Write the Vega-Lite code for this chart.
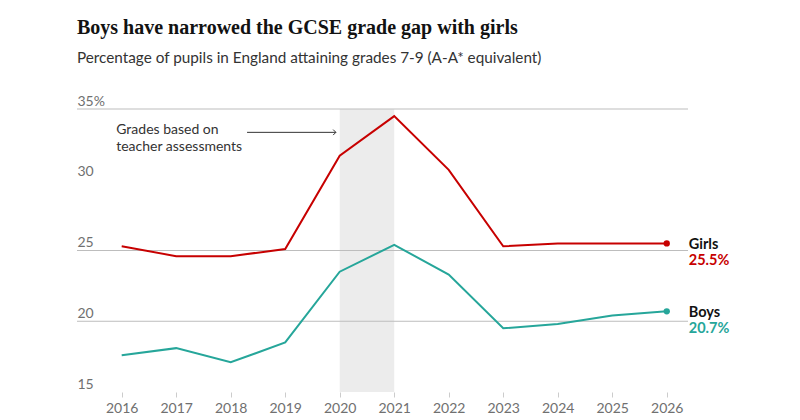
{
  "$schema": "https://vega.github.io/schema/vega-lite/v6.json",
  "description": "Share of pupils in England getting GCSE grades 7-9, girls and boys",
  "autosize": {"type": "none"},
  "padding": {"left": 77, "top": 109, "right": 112, "bottom": 28},
  "width": 611,
  "height": 283,
  "background": "white",
  "title": {
    "text": "Boys have narrowed the GCSE grade gap with girls",
    "subtitle": "Percentage of pupils in England attaining grades 7-9 (A-A* equivalent)",
    "anchor": "start",
    "frame": "group",
    "font": "Liberation Serif",
    "fontSize": 20,
    "fontWeight": "bold",
    "color": "#121212",
    "subtitleFont": "Lato",
    "subtitleFontSize": 15.3,
    "subtitleColor": "#333333",
    "subtitlePadding": 13,
    "offset": 28
  },
  "config": {
    "view": {"stroke": null},
    "font": "Lato"
  },
  "data": {
    "values": [
      {"year": 2016, "group": "Girls", "pct": 25.3},
      {"year": 2017, "group": "Girls", "pct": 24.6},
      {"year": 2018, "group": "Girls", "pct": 24.6},
      {"year": 2019, "group": "Girls", "pct": 25.1},
      {"year": 2020, "group": "Girls", "pct": 31.7},
      {"year": 2021, "group": "Girls", "pct": 34.5},
      {"year": 2022, "group": "Girls", "pct": 30.7},
      {"year": 2023, "group": "Girls", "pct": 25.3},
      {"year": 2024, "group": "Girls", "pct": 25.5},
      {"year": 2025, "group": "Girls", "pct": 25.5},
      {"year": 2026, "group": "Girls", "pct": 25.5},
      {"year": 2016, "group": "Boys", "pct": 17.6},
      {"year": 2017, "group": "Boys", "pct": 18.1},
      {"year": 2018, "group": "Boys", "pct": 17.1},
      {"year": 2019, "group": "Boys", "pct": 18.5},
      {"year": 2020, "group": "Boys", "pct": 23.5},
      {"year": 2021, "group": "Boys", "pct": 25.4},
      {"year": 2022, "group": "Boys", "pct": 23.3},
      {"year": 2023, "group": "Boys", "pct": 19.5},
      {"year": 2024, "group": "Boys", "pct": 19.8},
      {"year": 2025, "group": "Boys", "pct": 20.4},
      {"year": 2026, "group": "Boys", "pct": 20.7}
    ]
  },
  "layer": [
    {
      "data": {"values": [{"start": 2020, "end": 2021}]},
      "mark": {"type": "rect", "color": "#ececec"},
      "encoding": {
        "x": {"field": "start", "type": "quantitative"},
        "x2": {"field": "end"},
        "y": {"datum": 15},
        "y2": {"datum": 35}
      }
    },
    {
      "data": {"values": [{"v": 35}, {"v": 25}, {"v": 20}]},
      "mark": {"type": "rule", "color": "#bdbdbd", "strokeWidth": 1},
      "encoding": {
        "y": {"field": "v", "type": "quantitative"}
      }
    },
    {
      "mark": {"type": "line", "strokeWidth": 2},
      "encoding": {
        "x": {
          "field": "year",
          "type": "quantitative",
          "scale": {"domain": [2015.18, 2026.39], "nice": false, "zero": false},
          "axis": {
            "title": null,
            "values": [2016, 2017, 2018, 2019, 2020, 2021, 2022, 2023, 2024, 2025, 2026],
            "format": "d",
            "grid": false,
            "domain": false,
            "tickColor": "#cccccc",
            "tickSize": 5,
            "labelPadding": 4,
            "labelFont": "Lato",
            "labelFontSize": 14,
            "labelColor": "#707070"
          }
        },
        "y": {
          "field": "pct",
          "type": "quantitative",
          "scale": {"domain": [15, 35], "nice": false, "zero": false},
          "axis": {
            "title": null,
            "values": [15, 20, 25, 30, 35],
            "labelExpr": "datum.value == 35 ? '35%' : datum.label",
            "grid": false,
            "domain": false,
            "ticks": false,
            "tickSize": 0,
            "labelPadding": 0,
            "labelAlign": "left",
            "labelBaseline": "alphabetic",
            "labelOffset": -4,
            "labelFont": "Lato",
            "labelFontSize": 14,
            "labelColor": "#707070"
          }
        },
        "color": {
          "field": "group",
          "type": "nominal",
          "scale": {"domain": ["Girls", "Boys"], "range": ["#c70000", "#26a69a"]},
          "legend": null
        }
      }
    },
    {
      "transform": [{"filter": "datum.year == 2026"}],
      "mark": {"type": "point", "filled": true, "opacity": 1, "size": 40},
      "encoding": {
        "x": {"field": "year", "type": "quantitative"},
        "y": {"field": "pct", "type": "quantitative"},
        "color": {"field": "group", "type": "nominal", "legend": null}
      }
    },
    {
      "transform": [{"filter": "datum.year == 2026"}],
      "mark": {"type": "text", "align": "left", "dx": 22, "dy": 6, "baseline": "alphabetic", "font": "Lato", "fontSize": 14.5, "fontWeight": "bold", "color": "#121212"},
      "encoding": {
        "x": {"field": "year", "type": "quantitative"},
        "y": {"field": "pct", "type": "quantitative"},
        "text": {"field": "group"}
      }
    },
    {
      "transform": [
        {"filter": "datum.year == 2026"},
        {"calculate": "format(datum.pct, '.1f') + '%'", "as": "lab"}
      ],
      "mark": {"type": "text", "align": "left", "dx": 22, "dy": 22, "baseline": "alphabetic", "font": "Lato", "fontSize": 14.5, "fontWeight": "bold"},
      "encoding": {
        "x": {"field": "year", "type": "quantitative"},
        "y": {"field": "pct", "type": "quantitative"},
        "text": {"field": "lab"},
        "color": {"field": "group", "type": "nominal", "legend": null}
      }
    },
    {
      "data": {"values": [{"note": "Grades based on\nteacher assessments"}]},
      "mark": {"type": "text", "align": "left", "baseline": "top", "lineBreak": "\n", "lineHeight": 17, "font": "Lato", "fontSize": 14, "color": "#333333"},
      "encoding": {
        "x": {"datum": 2015.9},
        "y": {"datum": 34.0},
        "text": {"field": "note"}
      }
    },
    {
      "data": {"values": [{"a": 1}]},
      "mark": {"type": "rule", "color": "#333333", "strokeWidth": 1},
      "encoding": {
        "x": {"datum": 2018.3},
        "x2": {"datum": 2019.93},
        "y": {"datum": 33.35}
      }
    },
    {
      "data": {"values": [{"a": 1}]},
      "mark": {"type": "point", "shape": "M-1,-1L0,0L-1,1", "filled": false, "size": 30, "stroke": "#333333", "strokeWidth": 1, "opacity": 1},
      "encoding": {
        "x": {"datum": 2019.93},
        "y": {"datum": 33.35}
      }
    }
  ]
}
